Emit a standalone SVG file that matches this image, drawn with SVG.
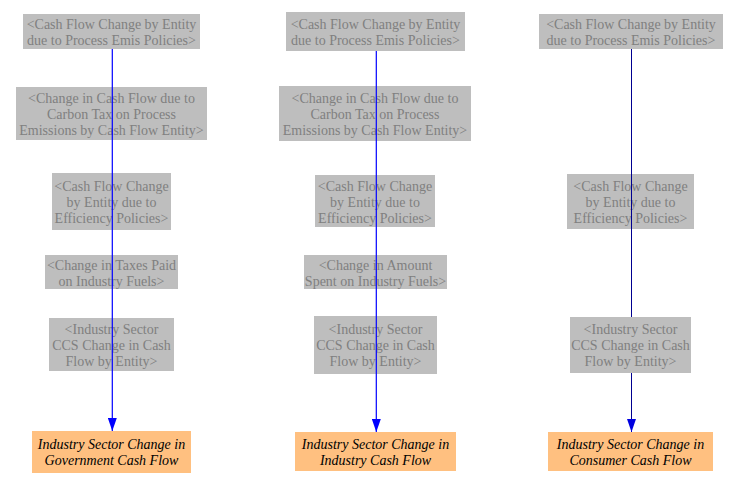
<svg xmlns="http://www.w3.org/2000/svg" width="736" height="483" viewBox="0 0 736 483">
<style>
.g rect{fill:#bebebe;stroke:none}
.g text{fill:#808080;font-family:'Liberation Serif','Times New Roman','DejaVu Serif',serif;font-size:14px;text-anchor:middle}
.t rect{fill:#ffc080;stroke:none}
.t text{fill:#000;font-family:'Liberation Serif','Times New Roman','DejaVu Serif',serif;font-size:14px;font-style:italic;text-anchor:middle}
.e{stroke:#0000ff;stroke-width:1.2;fill:none}
.e2{stroke:#000090;stroke-width:1;fill:none}
</style>
<defs>
<marker id="ah" markerUnits="userSpaceOnUse" markerWidth="9" markerHeight="14" refX="4.5" refY="13" orient="0" viewBox="0 0 9 14">
<path d="M0,0 L9,0 L4.5,13 Z" fill="#0000ff"/>
</marker>
<marker id="ah2" markerUnits="userSpaceOnUse" markerWidth="9" markerHeight="14" refX="4.5" refY="13" orient="0" viewBox="0 0 9 14">
<path d="M0,0 L9,0 L4.5,13 Z" fill="#0000e0"/>
</marker>
</defs>
<!-- Column 1 nodes -->
<g id="c1n1" class="g"><rect x="23" y="14" width="177" height="35"/><text x="111.5" y="29">&lt;Cash Flow Change by Entity</text><text x="111.5" y="45">due to Process Emis Policies&gt;</text></g>
<g id="c1n2" class="g"><rect x="16" y="87" width="191" height="53"/><text x="111.5" y="103">&lt;Change in Cash Flow due to</text><text x="111.5" y="119">Carbon Tax on Process</text><text x="111.5" y="135">Emissions by Cash Flow Entity&gt;</text></g>
<g id="c1n3" class="g"><rect x="52" y="173" width="119" height="57"/><text x="111.5" y="191">&lt;Cash Flow Change</text><text x="111.5" y="207">by Entity due to</text><text x="111.5" y="223">Efficiency Policies&gt;</text></g>
<g id="c1n4" class="g"><rect x="45" y="255" width="133" height="34"/><text x="111.5" y="269.5">&lt;Change in Taxes Paid</text><text x="111.5" y="285.5">on Industry Fuels&gt;</text></g>
<g id="c1n5" class="g"><rect x="49" y="318" width="125" height="53"/><text x="111.5" y="334">&lt;Industry Sector</text><text x="111.5" y="350">CCS Change in Cash</text><text x="111.5" y="366">Flow by Entity&gt;</text></g>
<g id="c1t" class="t"><rect x="32" y="431" width="159" height="42"/><text x="111.5" y="448.5">Industry Sector Change in</text><text x="111.5" y="464.5">Government Cash Flow</text></g>
<!-- Column 2 nodes -->
<g id="c2n1" class="g"><rect x="286" y="12" width="179" height="39"/><text x="375.5" y="29">&lt;Cash Flow Change by Entity</text><text x="375.5" y="45">due to Process Emis Policies&gt;</text></g>
<g id="c2n2" class="g"><rect x="279" y="86" width="192" height="55"/><text x="375" y="103">&lt;Change in Cash Flow due to</text><text x="375" y="119">Carbon Tax on Process</text><text x="375" y="135">Emissions by Cash Flow Entity&gt;</text></g>
<g id="c2n3" class="g"><rect x="315" y="175" width="120" height="52"/><text x="375" y="191">&lt;Cash Flow Change</text><text x="375" y="207">by Entity due to</text><text x="375" y="223">Efficiency Policies&gt;</text></g>
<g id="c2n4" class="g"><rect x="304" y="255" width="143" height="34"/><text x="375.5" y="269.5">&lt;Change in Amount</text><text x="375.5" y="285.5">Spent on Industry Fuels&gt;</text></g>
<g id="c2n5" class="g"><rect x="314" y="316" width="123" height="58"/><text x="375.5" y="334">&lt;Industry Sector</text><text x="375.5" y="350">CCS Change in Cash</text><text x="375.5" y="366">Flow by Entity&gt;</text></g>
<g id="c2t" class="t"><rect x="295" y="432" width="161" height="39"/><text x="375.5" y="448.5">Industry Sector Change in</text><text x="375.5" y="464.5">Industry Cash Flow</text></g>
<!-- Column 3 nodes (CCS node drawn after connectors) -->
<g id="c3n1" class="g"><rect x="539" y="14" width="184" height="35"/><text x="631" y="29">&lt;Cash Flow Change by Entity</text><text x="631" y="45">due to Process Emis Policies&gt;</text></g>
<g id="c3n3" class="g"><rect x="567" y="174" width="127" height="55"/><text x="630.5" y="191">&lt;Cash Flow Change</text><text x="630.5" y="207">by Entity due to</text><text x="630.5" y="223">Efficiency Policies&gt;</text></g>
<g id="c3t" class="t"><rect x="548" y="432" width="165" height="39"/><text x="630.5" y="448.5">Industry Sector Change in</text><text x="630.5" y="464.5">Consumer Cash Flow</text></g>
<!-- Connectors -->
<g id="connectors">
<line class="e" x1="112.3" y1="49" x2="112.3" y2="431" marker-end="url(#ah)"/>
<line class="e" x1="376.3" y1="51" x2="376.3" y2="432" marker-end="url(#ah)"/>
<line class="e2" x1="631.5" y1="49" x2="631.5" y2="432" marker-end="url(#ah2)"/>
</g>
<g id="c3n5" class="g"><rect x="570" y="317" width="121" height="56"/><text x="630.5" y="334">&lt;Industry Sector</text><text x="630.5" y="350">CCS Change in Cash</text><text x="630.5" y="366">Flow by Entity&gt;</text></g>
</svg>
